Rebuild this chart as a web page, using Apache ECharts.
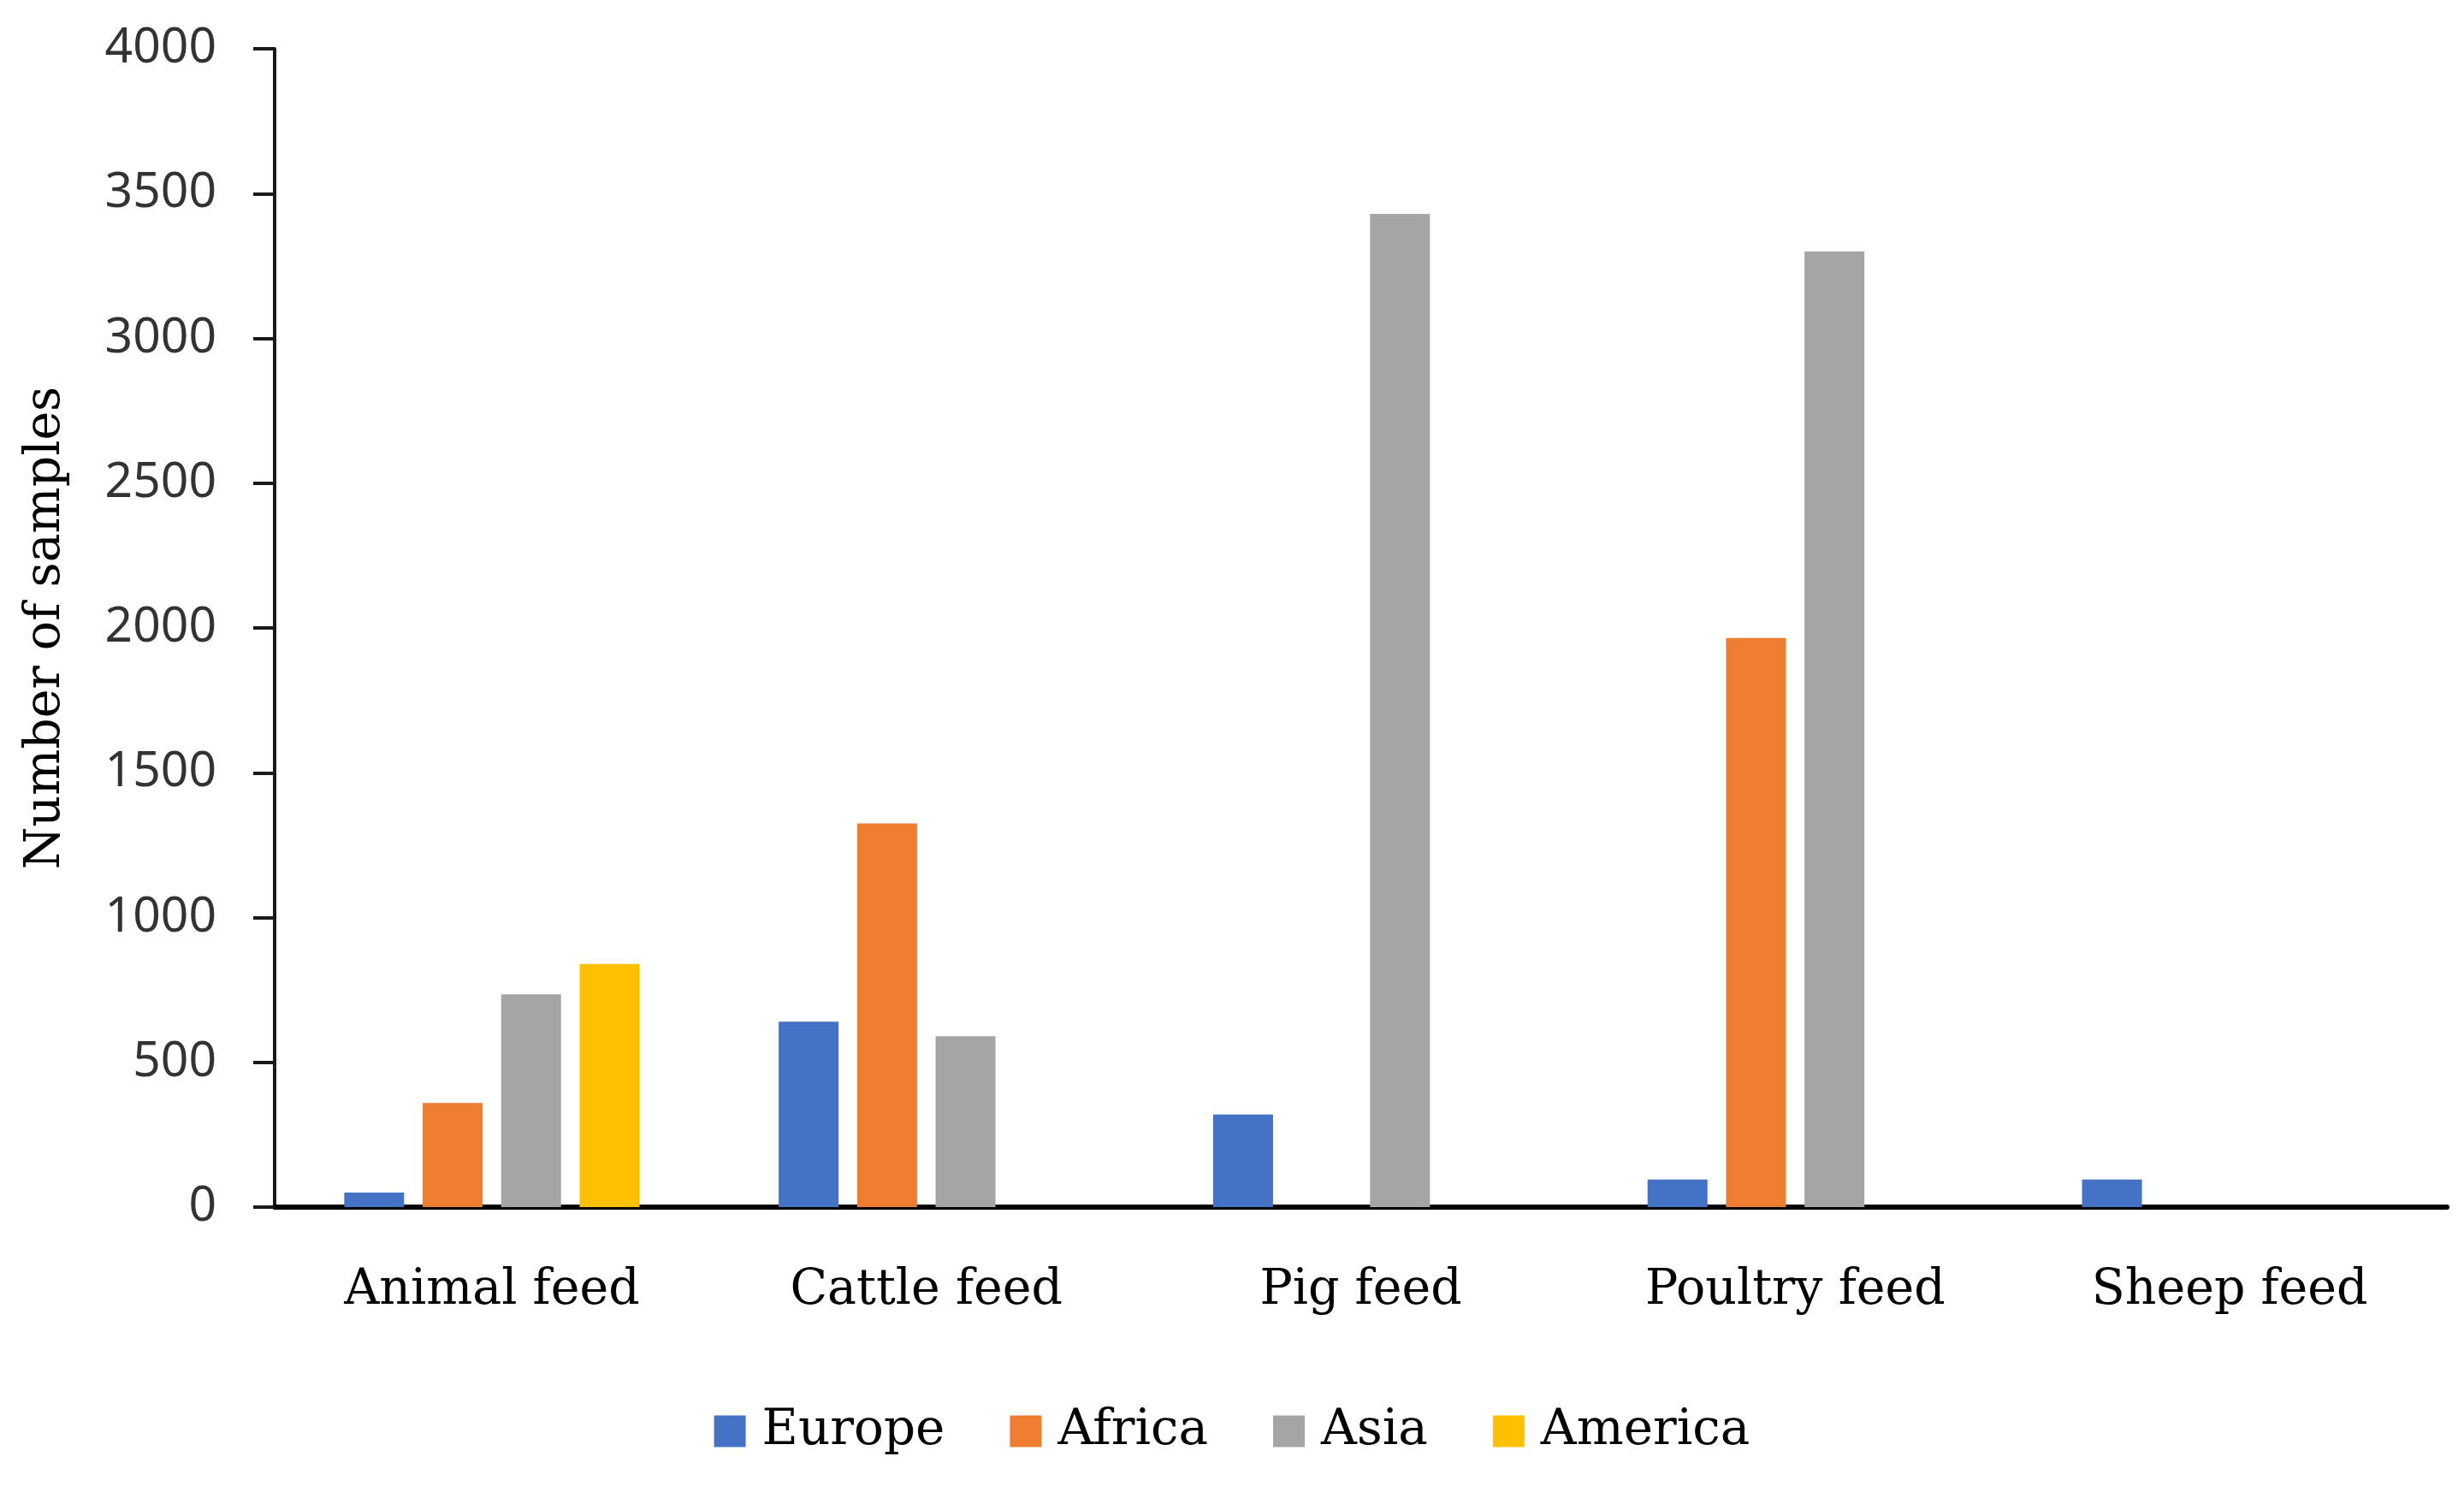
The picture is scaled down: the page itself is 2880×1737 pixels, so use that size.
<!DOCTYPE html>
<html>
<head>
<meta charset="utf-8">
<script src="https://cdn.jsdelivr.net/npm/echarts@6/dist/echarts.min.js"></script>
<style>html,body{margin:0;padding:0;background:#fff}#c{width:2880px;height:1737px}</style>
</head>
<body>
<div id="c"></div>
<script>
const categories = ['Animal feed', 'Cattle feed', 'Pig feed', 'Poultry feed', 'Sheep feed'];
const europe  = [50, 640, 320, 95, 95];
const africa  = [360, 1325, 0, 1965, 0];
const asia    = [735, 590, 3430, 3300, 0];
const america = [840, 0, 0, 0, 0];
const yTicks = [0, 500, 1000, 1500, 2000, 2500, 3000, 3500, 4000];

const serif = 'DejaVu Serif';
const chart = echarts.init(document.getElementById('c'), null, {renderer: 'canvas'});
const mk = (name, data, color) => ({
  name, type: 'bar', data, barWidth: 70, barGap: '31%',
  itemStyle: {color}
});
chart.setOption({
  animation: false,
  backgroundColor: '#fff',
  grid: {left: 321, right: 20, top: 57, bottom: 326, containLabel: false},
  legend: {
    bottom: 30, left: 'center',
    itemWidth: 37, itemHeight: 37, itemGap: 76,
    icon: 'rect',
    textStyle: {fontFamily: serif, fontSize: 58, color: '#000', padding: [0, 0, 0, 14]},
    data: ['Europe', 'Africa', 'Asia', 'America']
  },
  xAxis: {
    type: 'category', data: categories,
    axisLine: {lineStyle: {color: '#000', width: 6}},
    axisTick: {show: false},
    axisLabel: {fontFamily: serif, fontSize: 57, color: '#000', margin: 70}
  },
  yAxis: {
    type: 'value', min: yTicks[0], max: yTicks[yTicks.length - 1], interval: 500,
    name: 'Number of samples', nameLocation: 'middle', nameGap: 238,
    nameTextStyle: {fontFamily: serif, fontSize: 57, color: '#000'},
    axisLine: {show: true, lineStyle: {color: '#1a1a1a', width: 4}},
    axisTick: {show: true, length: 25, lineStyle: {color: '#1a1a1a', width: 4}},
    splitLine: {show: false},
    axisLabel: {fontFamily: 'Noto Sans', fontSize: 57, color: '#333', margin: 68,
      formatter: v => String(v)}
  },
  series: [
    mk('Europe', europe, '#4472C4'),
    mk('Africa', africa, '#ED7D31'),
    mk('Asia', asia, '#A5A5A5'),
    mk('America', america, '#FFC000')
  ]
});
</script>
</body>
</html>
